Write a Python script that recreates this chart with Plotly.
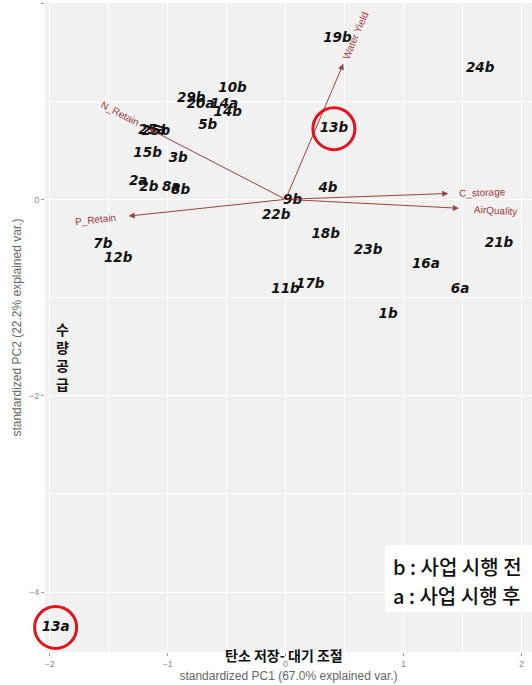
import math
import plotly.graph_objects as go

# PCA scores (standardized PC1 / PC2) for each site, a = after, b = before
labels = ["19b", "24b", "10b", "29b", "20a", "14a", "14b", "5b", "25a", "25b",
          "13b", "15b", "3b", "2a", "2b", "8a", "8b", "9b", "4b", "22b",
          "18b", "23b", "21b", "16a", "6a", "11b", "17b", "1b", "7b", "12b", "13a"]
pc1 = [0.44, 1.65, -0.45, -0.80, -0.72, -0.52, -0.49, -0.66, -1.13, -1.10,
       0.41, -1.17, -0.91, -1.25, -1.16, -0.97, -0.89, 0.06, 0.36, -0.08,
       0.34, 0.70, 1.81, 1.19, 1.48, 0.00, 0.21, 0.87, -1.55, -1.42, -1.95]
pc2 = [1.64, 1.33, 1.13, 1.03, 0.96, 0.96, 0.88, 0.75, 0.70, 0.69,
       0.72, 0.47, 0.42, 0.18, 0.12, 0.12, 0.09, -0.01, 0.11, -0.17,
       -0.36, -0.52, -0.45, -0.66, -0.92, -0.92, -0.87, -1.17, -0.46, -0.60, -4.36]

# Variable loadings (arrow tips)
var_names = ["Water Yield", "N_Retain", "P_Retain", "C_storage", "AirQuality"]
load_pc1 = [0.49, -1.16, -1.33, 1.38, 1.47]
load_pc2 = [1.38, 0.72, -0.17, 0.06, -0.09]
label_adjust = 1.21

highlighted = ["13b", "13a"]

x_title = "standardized PC1 (67.0% explained var.)"
y_title = "standardized PC2 (22.2% explained var.)"
x_note = "탄소 저장- 대기 조절"
y_note = "수<br>량<br>공<br>급"
legend_lines = ["b : 사업 시행 전", "a : 사업 시행 후"]

x_range = [-2.04, 2.09]
y_range = [-4.61, 2.0]

W, H = 532, 685
M = dict(l=45, r=0, t=3, b=33)
plot_w = W - M["l"] - M["r"]
plot_h = H - M["t"] - M["b"]
ux = plot_w / (x_range[1] - x_range[0])
uy = plot_h / (y_range[1] - y_range[0])


def to_paper(x, y):
    return ((x - x_range[0]) / (x_range[1] - x_range[0]),
            (y - y_range[0]) / (y_range[1] - y_range[0]))


arrow_col = "rgba(139,37,37,0.85)"
varlab_col = "#A23A3A"

fig = go.Figure()

fig.add_trace(go.Scatter(
    x=pc1, y=pc2, text=labels, mode="text",
    textfont=dict(family="DejaVu Sans", size=13.5, color="#111111",
                  weight="bold", style="italic"),
    cliponaxis=False, hoverinfo="skip", showlegend=False,
))

annotations = []
for name, lx, ly in zip(var_names, load_pc1, load_pc2):
    annotations.append(dict(
        x=lx, y=ly, ax=0, ay=0, xref="x", yref="y", axref="x", ayref="y",
        showarrow=True, arrowhead=2, arrowsize=1.2, arrowwidth=1,
        arrowcolor=arrow_col, text="",
    ))
    ang = math.degrees(math.atan2(ly * uy, lx * ux))
    if ang > 90:
        ang -= 180
    elif ang < -90:
        ang += 180
    annotations.append(dict(
        x=lx * label_adjust, y=ly * label_adjust, xref="x", yref="y",
        text=name, showarrow=False, textangle=-ang,
        font=dict(family="Liberation Sans, Arial", size=10, color=varlab_col),
    ))

annotations.append(dict(
    x=0.49, y=-0.005, xref="paper", yref="paper", text=x_note, showarrow=False,
    xanchor="center", yanchor="middle",
    font=dict(family="Noto Sans CJK KR", size=14, color="#111111", weight="bold"),
))
annotations.append(dict(
    x=0.036, y=0.455, xref="paper", yref="paper", text=y_note, showarrow=False,
    xanchor="center", yanchor="middle",
    font=dict(family="Noto Sans CJK KR", size=14, color="#111111", weight="bold"),
))
for k, line in enumerate(legend_lines):
    annotations.append(dict(
        x=0.71, y=0.132 - k * 0.045, xref="paper", yref="paper",
        text=line, showarrow=False, align="left",
        xanchor="left", yanchor="middle",
        font=dict(family="Noto Sans CJK KR", size=20, color="#111111", weight=500),
    ))

shapes = [dict(
    type="rect", xref="paper", yref="paper", x0=0.698, x1=1.0, y0=0.062, y1=0.165,
    fillcolor="white", line=dict(width=0), layer="above",
)]
r_px = 21
for lab in highlighted:
    i = labels.index(lab)
    cx, cy = to_paper(pc1[i], pc2[i])
    rx, ry = r_px / plot_w, r_px / plot_h
    shapes.append(dict(
        type="circle", xref="paper", yref="paper",
        x0=cx - rx, x1=cx + rx, y0=cy - ry, y1=cy + ry,
        line=dict(color="#E3141E", width=3), layer="above",
    ))

axis_common = dict(
    showline=False, zeroline=False, showgrid=True, gridcolor="white", gridwidth=1.2,
    ticks="outside", ticklen=3, tickcolor="#9A9A9A",
    tickfont=dict(family="Liberation Sans, Arial", size=9, color="#8A8A8A"),
)

fig.update_layout(
    width=W, height=H, margin=M,
    paper_bgcolor="white", plot_bgcolor="#F1F1F1",
    xaxis=dict(range=x_range, dtick=1, tick0=0,
               minor=dict(dtick=0.5, showgrid=True, gridcolor="white", gridwidth=0.6),
               title=dict(text=x_title, standoff=1,
                          font=dict(family="Liberation Sans, Arial", size=12, color="#666666")),
               **axis_common),
    yaxis=dict(range=y_range, dtick=2, tick0=0,
               minor=dict(dtick=1, showgrid=True, gridcolor="white", gridwidth=0.6),
               title=dict(text=y_title, standoff=4,
                          font=dict(family="Liberation Sans, Arial", size=12, color="#666666")),
               **axis_common),
    annotations=annotations,
    shapes=shapes,
    showlegend=False,
)

fig.write_html("out.html")
